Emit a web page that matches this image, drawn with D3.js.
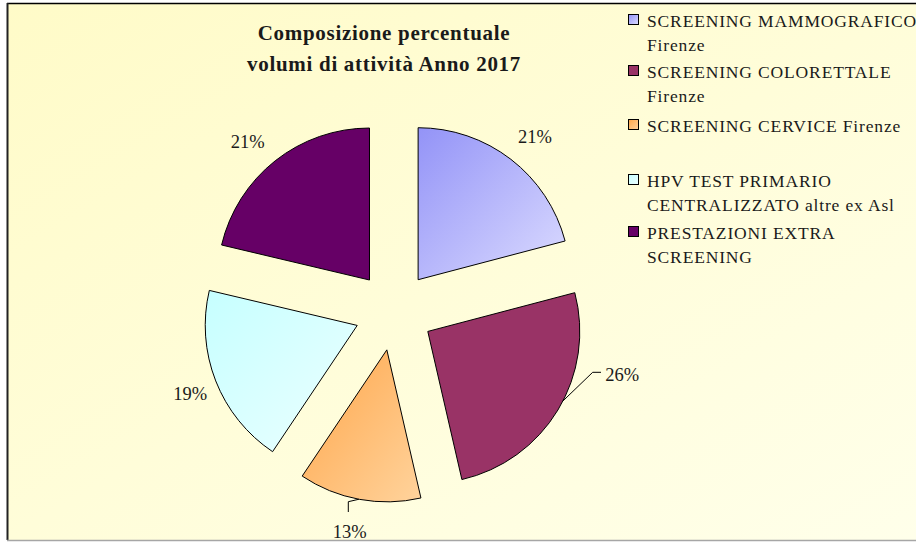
<!DOCTYPE html>
<meta charset="utf-8">
<style>
body { margin: 0; background: #fff; }
text { font-family: "Liberation Serif", "DejaVu Serif", serif; fill: #1a1a1a; }
.title { font-weight: bold; font-size: 21px; letter-spacing: 0.7px; }
.lbl { font-size: 18.5px; }
.leg { font-size: 17.5px; letter-spacing: 0.85px; }
.slice { stroke: #000; stroke-width: 1px; }
.leader { fill: none; stroke: #000; stroke-width: 1px; }
</style>
<body>
<script src="https://d3js.org/d3.v7.min.js"></script>
<script>

var width = 916,
    height = 542;

// data (shares, labels show them rounded)
var categories = ["SCREENING MAMMOGRAFICO Firenze", "SCREENING COLORETTALE Firenze",
                  "SCREENING CERVICE Firenze", "HPV TEST PRIMARIO CENTRALIZZATO altre ex Asl",
                  "PRESTAZIONI EXTRA SCREENING"];
var values = [20.9, 25.5, 13.0, 19.3, 21.3];
var legendLines = [["SCREENING MAMMOGRAFICO", "Firenze"],
                   ["SCREENING COLORETTALE", "Firenze"],
                   ["SCREENING CERVICE Firenze"],
                   ["HPV TEST PRIMARIO", "CENTRALIZZATO altre ex Asl"],
                   ["PRESTAZIONI EXTRA", "SCREENING"]];
var titleLines = ["Composizione percentuale", "volumi di attività Anno 2017"];

// fill colours: [start, end] of the diagonal shading
var colors = [["#9393f7", "#dcdcff"], ["#993366", "#993366"], ["#ffa64a", "#ffd39c"],
              ["#c6ffff", "#ecffff"], ["#660066", "#660066"]];

var cx = 394, cy = 311, radius = 152, explode = 39.5;

// where each percentage sits: polar position from the slice tip (degrees, px)
var labelPos = [{ angle: 39.3, r: 184.5 },
                { angle: 102.4, r: 199, leader: { from: 117.2, via: [592.7, 372.3], to: [601, 372.3] } },
                { angle: 191.6, r: 185, leader: { from: 190.6, via: [348.3, 501.7], to: [348.3, 512] } },
                { angle: 247.7, r: 180.4 },
                { angle: 318.7, r: 184.7 }];

var svg = d3.select("body").append("svg")
    .attr("width", width)
    .attr("height", height);

var defs = svg.append("defs");

var bg = defs.append("linearGradient").attr("id", "bg")
    .attr("x1", 0).attr("y1", 0).attr("x2", 1).attr("y2", 1);
bg.append("stop").attr("offset", 0).attr("stop-color", "#fffbc8");
bg.append("stop").attr("offset", 1).attr("stop-color", "#ffffea");

colors.forEach(function(c, i) {
  var g = defs.append("linearGradient").attr("id", "g" + i)
      .attr("x1", 0).attr("y1", 0).attr("x2", 1).attr("y2", 1);
  g.append("stop").attr("offset", 0).attr("stop-color", c[0]);
  g.append("stop").attr("offset", 1).attr("stop-color", c[1]);
});

// chart area
svg.append("rect")
    .attr("x", 8).attr("y", 4)
    .attr("width", width - 8).attr("height", 536)
    .attr("fill", "url(#bg)");
svg.append("line").attr("x1", 7).attr("x2", width).attr("y1", 3.5).attr("y2", 3.5)
    .attr("stroke", "#000").attr("stroke-width", 1.5);
svg.append("line").attr("x1", 7.5).attr("x2", 7.5).attr("y1", 3).attr("y2", 540)
    .attr("stroke", "#222").attr("stroke-width", 2);
svg.append("line").attr("x1", 7).attr("x2", width).attr("y1", 540.5).attr("y2", 540.5)
    .attr("stroke", "#a6a6a6").attr("stroke-width", 1.5);

// title
svg.append("text")
    .attr("class", "title")
    .attr("text-anchor", "middle")
    .selectAll("tspan")
    .data(titleLines)
  .enter().append("tspan")
    .attr("x", 384)
    .attr("y", function(d, i) { return 40 + i * 31; })
    .text(function(d) { return d; });

// pie
var pie = d3.pie().sort(null).value(function(d) { return d; });
var arcs = pie(values);
var arc = d3.arc().innerRadius(0).outerRadius(radius);
var rad = Math.PI / 180;

function dir(a) { return [Math.sin(a), -Math.cos(a)]; }
function mid(d) { return (d.startAngle + d.endAngle) / 2; }
function tip(d) {
  var u = dir(mid(d));
  return [cx + u[0] * explode, cy + u[1] * explode];
}

var slice = svg.selectAll(".s")
    .data(arcs)
  .enter().append("g")
    .attr("transform", function(d) { return "translate(" + tip(d) + ")"; });

slice.append("path")
    .attr("class", "slice")
    .attr("d", arc)
    .attr("fill", function(d, i) { return "url(#g" + i + ")"; });

slice.append("text")
    .attr("class", "lbl")
    .attr("text-anchor", "middle")
    .attr("x", function(d, i) { return dir(labelPos[i].angle * rad)[0] * labelPos[i].r; })
    .attr("y", function(d, i) { return dir(labelPos[i].angle * rad)[1] * labelPos[i].r + 6.5; })
    .text(function(d) { return Math.round(d.value) + "%"; });

// leader lines for the labels that were dragged off
arcs.forEach(function(d, i) {
  var L = labelPos[i].leader;
  if (!L) return;
  var t = tip(d), p = dir(L.from * rad);
  svg.append("path")
      .attr("class", "leader")
      .attr("d", d3.line()([[t[0] + p[0] * radius, t[1] + p[1] * radius], L.via, L.to]));
});

// legend
var legY = [14, 65, 119, 174, 226];
var leg = svg.selectAll(".legitem")
    .data(legendLines)
  .enter().append("g")
    .attr("transform", function(d, i) { return "translate(628," + legY[i] + ")"; });

leg.append("rect")
    .attr("x", 0.5).attr("y", 0.5)
    .attr("width", 10).attr("height", 10)
    .attr("stroke", "#000").attr("stroke-width", 1)
    .attr("fill", function(d, i) { return "url(#g" + i + ")"; });

leg.append("text")
    .attr("class", "leg")
    .selectAll("tspan")
    .data(function(d) { return d; })
  .enter().append("tspan")
    .attr("x", 19)
    .attr("y", function(d, i) { return 13 + i * 23.5; })
    .text(function(d) { return d; });

</script>
</body>
